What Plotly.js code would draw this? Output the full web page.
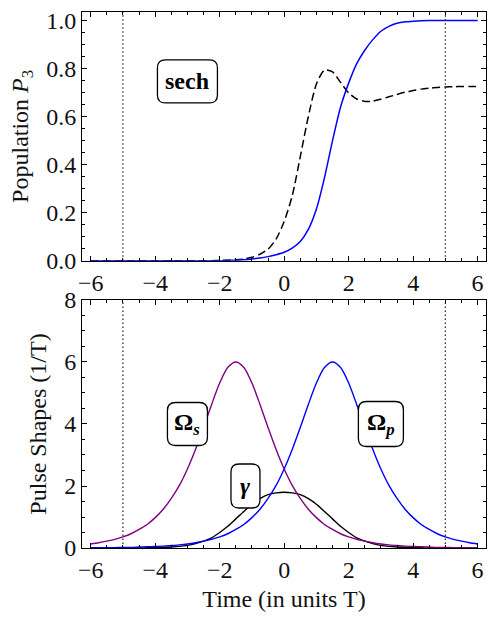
<!DOCTYPE html>
<html>
<head>
<meta charset="utf-8">
<script src="https://cdn.plot.ly/plotly-3.0.1.min.js"></script>
<style>html,body{margin:0;padding:0;background:#fff;}#chart{width:487px;height:618px;}</style>
</head>
<body>
<div id="chart"></div>
<script>
// time grid (units of T)
const time = [-6,-5.75,-5.5,-5.25,-5,-4.75,-4.5,-4.25,-4,-3.75,-3.5,-3.25,-3,-2.75,-2.5,-2.25,-2,-1.75,-1.5,-1.25,-1,-0.75,-0.5,-0.25,0,0.25,0.5,0.75,1,1.25,1.5,1.75,2,2.25,2.5,2.75,3,3.25,3.5,3.75,4,4.25,4.5,4.75,5,5.25,5.5,5.75,6];

// top panel: population P3
const popSolid = [0,0,0,0,0,0,0,0,0,0,0,0,0,0,0,0,0,
  0.001,0.002,0.004,0.007,0.011,0.017,0.025,0.035,
  0.052,0.08,0.13,0.215,0.345,0.5,0.64,0.739,
  0.82,0.876,0.92,0.955,0.975,0.988,0.994,0.997,
  0.999,1,1,1,1,1,1,1];
const popDashed = [0,0,0,0,0,0,0,0,0,0,0,0,0,0,0,0,
  0.001,0.002,0.004,0.007,0.014,0.027,0.048,0.09,0.163,
  0.27,0.433,0.60,0.735,0.793,0.786,0.742,0.698,
  0.673,0.663,0.664,0.672,0.682,0.692,0.701,0.708,
  0.714,0.718,0.721,0.723,0.724,0.725,0.725,0.725];

// bottom panel: pulse shapes (1/T)
const omegaP = [0.01,0.01,0.01,0.01,0.02,0.02,0.03,0.04,0.05,0.06,0.08,0.10,0.13,
  0.17,0.22,0.28,0.36,0.46,0.60,0.76,0.98,1.25,1.60,2.02,2.55,
  3.18,3.89,4.63,5.32,5.82,6.00,
  5.82,5.32,4.63,3.89,3.18,2.55,2.02,1.60,1.25,0.98,0.76,0.60,0.46,0.36,0.28,0.22,0.17,0.13];
const omegaS = [0.13,0.17,0.22,0.28,0.36,0.46,0.60,0.76,0.98,1.25,1.60,2.02,2.55,3.18,3.89,4.63,5.32,5.82,
  6.00,
  5.82,5.32,4.63,3.89,3.18,2.55,
  2.02,1.60,1.25,0.98,0.76,0.60,0.46,0.36,0.28,0.22,0.17,0.13,
  0.10,0.08,0.06,0.05,0.04,0.03,0.02,0.02,0.01,0.01,0.01,0.01];
const gammaRate = [0,0,0.001,0.001,0.002,0.003,0.004,0.007,0.012,0.019,0.032,0.052,0.085,0.14,0.22,0.33,0.50,0.70,0.94,1.18,1.41,1.59,1.72,1.78,
  1.80,
  1.78,1.72,1.59,1.41,1.18,0.94,0.70,0.50,0.33,0.22,0.14,0.085,0.052,0.032,0.019,0.012,0.007,0.004,0.003,0.002,0.001,0.001,0,0];

const markerTimes = [-5, 5];
const xTicks = [-6,-4,-2,0,2,4,6];
const xTickText = ['\u22126','\u22124','\u22122','0','2','4','6'];

// labels: [text, x, y, axis, halfWidthPx, halfHeightPx]
const labels = [
  ['<b>sech</b>', -3.0, 0.746, '', 30, 21.5],
  ['<b>\u03A9<sub><i>s</i></sub></b>', -3.0, 4.0, '2', 20, 21.5],
  ['<b>\u03A9<sub><i>p</i></sub></b>', 3.0, 4.0, '2', 22.5, 22.5],
  ['<b><i>\u03B3</i></b>', -1.2, 2.0, '2', 14.5, 22]
];

const FONT = 'Liberation Serif';
const FS = 24;

const traces = [
  {x: time, y: popDashed, type: 'scatter', mode: 'lines', xaxis: 'x', yaxis: 'y',
   line: {color: '#000', width: 1.5, dash: '8px,4px', shape: 'spline', smoothing: 0.7}},
  {x: time, y: popSolid, type: 'scatter', mode: 'lines', xaxis: 'x', yaxis: 'y',
   line: {color: '#0000ff', width: 1.5, shape: 'spline', smoothing: 0.7}},
  {x: time, y: gammaRate, type: 'scatter', mode: 'lines', xaxis: 'x2', yaxis: 'y2',
   line: {color: '#000', width: 1.4, shape: 'spline', smoothing: 0.8}},
  {x: time, y: omegaS, type: 'scatter', mode: 'lines', xaxis: 'x2', yaxis: 'y2',
   line: {color: '#800080', width: 1.4, shape: 'spline', smoothing: 0.8}},
  {x: time, y: omegaP, type: 'scatter', mode: 'lines', xaxis: 'x2', yaxis: 'y2',
   line: {color: '#0000ff', width: 1.4, shape: 'spline', smoothing: 0.8}}
];

function xAxis(anchor, title) {
  const a = {
    anchor: anchor, domain: [0, 1], range: [-6.27, 6.26],
    tickmode: 'array', tickvals: xTicks, ticktext: xTickText,
    ticks: 'inside', ticklen: 5, tickwidth: 1, tickcolor: '#000',
    minor: {ticks: 'inside', dtick: 0.5, ticklen: 3, tickwidth: 1, tickcolor: '#000'},
    showline: true, linecolor: '#000', linewidth: 1, mirror: 'ticks',
    showgrid: false, zeroline: false,
    tickfont: {family: FONT, size: FS, color: '#111'}
  };
  if (title) a.title = {text: title, font: {family: FONT, size: FS, color: '#111'}, standoff: 8};
  return a;
}
function yAxis(anchor, domain, range, dtick, minor, fmt, title) {
  return {
    anchor: anchor, domain: domain, range: range, dtick: dtick, tick0: 0, tickformat: fmt,
    ticks: 'inside', ticklen: 5, tickwidth: 1, tickcolor: '#000',
    minor: {ticks: 'inside', dtick: minor, ticklen: 3, tickwidth: 1, tickcolor: '#000'},
    showline: true, linecolor: '#000', linewidth: 1, mirror: 'ticks',
    showgrid: false, zeroline: false,
    tickfont: {family: FONT, size: FS, color: '#111'},
    title: {text: title, font: {family: FONT, size: FS, color: '#111'}, standoff: 10}
  };
}

const shapes = [];
['', '2'].forEach(ax => {
  markerTimes.forEach(xv => {
    shapes.push({type: 'line', xref: 'x' + ax, yref: 'y' + (ax) + ' domain', x0: xv, x1: xv, y0: 0, y1: 1,
      line: {color: '#222', width: 1.2, dash: '1.5px,2.5px'}, layer: 'above'});
  });
});
const annotations = [];
labels.forEach(([txt, xv, yv, ax, hw, hh]) => {
  const r = 8;
  const path = `M ${-hw + r},${-hh} L ${hw - r},${-hh} Q ${hw},${-hh} ${hw},${-hh + r} L ${hw},${hh - r} Q ${hw},${hh} ${hw - r},${hh} L ${-hw + r},${hh} Q ${-hw},${hh} ${-hw},${hh - r} L ${-hw},${-hh + r} Q ${-hw},${-hh} ${-hw + r},${-hh} Z`;
  shapes.push({type: 'path', xref: 'x' + ax, yref: 'y' + ax, xsizemode: 'pixel', ysizemode: 'pixel',
    xanchor: xv, yanchor: yv, path: path, fillcolor: '#fff', line: {color: '#000', width: 1.3}, layer: 'above'});
  annotations.push({xref: 'x' + ax, yref: 'y' + ax, x: xv, y: yv, text: txt, showarrow: false,
    xanchor: 'center', yanchor: 'middle', font: {family: FONT, size: FS, color: '#000'}});
});

const layout = {
  width: 487, height: 618,
  margin: {l: 82, r: 1, t: 12, b: 70},
  paper_bgcolor: '#fff', plot_bgcolor: '#fff',
  showlegend: false,
  xaxis: xAxis('y', null),
  yaxis: yAxis('x', [0.536, 1], [0, 1.035], 0.2, 0.05, '.1f', 'Population <i>P</i><sub>3</sub>'),
  xaxis2: xAxis('y2', 'Time (in units T)'),
  yaxis2: yAxis('x2', [0, 0.4627], [0, 8], 2, 0.5, 'd', 'Pulse Shapes (1/T)'),
  shapes: shapes,
  annotations: annotations
};

Plotly.newPlot('chart', traces, layout, {displayModeBar: false, staticPlot: true});
</script>
</body>
</html>
